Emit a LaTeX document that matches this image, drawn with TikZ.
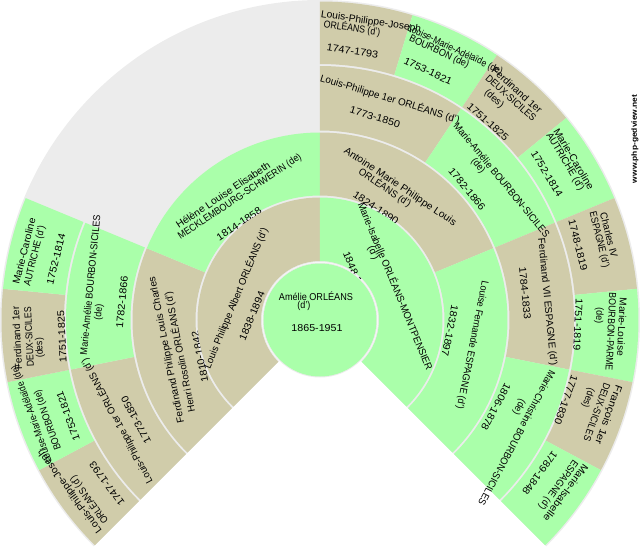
\documentclass[tikz,border=0pt]{standalone}
\usepackage{graphicx}
\usepackage{fontspec}
\setmainfont{Liberation Sans}
\definecolor{tan}{HTML}{D0CCAA}
\definecolor{grn}{HTML}{AAFFAA}
\definecolor{rim}{HTML}{ECECEC}
\newcommand{\wedgeseg}[5]{% colour, rin, rout, a1, a2
  \fill[#1] (#4:#2) arc[start angle=#4,end angle=#5,radius=#2] -- (#5:#3) arc[start angle=#5,end angle=#4,radius=#3] -- cycle;}
\newlength\lblw
\newcommand{\lfont}{\fontsize{10}{12}\selectfont}
% \lbl{name}{x px}{y px}{rot}{width px}{text}
\newcommand{\lbl}[6]{%
  \node[lab,rotate=#4] (#1) at ({#2-320},{320-#3}) {\settowidth\lblw{#6}\pgfmathsetmacro\lblsx{#5/\lblw}\scalebox{\lblsx}[1]{#6}};}
\tikzset{lab/.style={inner sep=0pt,font=\lfont,text=black,anchor=center}}
\begin{document}
\begin{tikzpicture}[x=1pt,y=1pt]
\useasboundingbox (-320,-230) rectangle (320,320);
% background fan
\fill[rim] (225:58) arc[start angle=225,end angle=-45,radius=58] -- (-45:320) arc[start angle=-45,end angle=225,radius=320] -- cycle;
% ring 4
\wedgeseg{tan}{256}{318.5}{225}{208.125}
\wedgeseg{grn}{256}{318.5}{208.125}{191.25}
\wedgeseg{tan}{256}{318.5}{191.25}{174.375}
\wedgeseg{grn}{256}{318.5}{174.375}{157.5}
\wedgeseg{tan}{256}{318.5}{90}{73.125}
\wedgeseg{grn}{256}{318.5}{73.125}{56.25}
\wedgeseg{tan}{256}{318.5}{56.25}{39.375}
\wedgeseg{grn}{256}{318.5}{39.375}{22.5}
\wedgeseg{tan}{256}{318.5}{22.5}{5.625}
\wedgeseg{grn}{256}{318.5}{5.625}{-11.25}
\wedgeseg{tan}{256}{318.5}{-11.25}{-28.125}
\wedgeseg{grn}{256}{318.5}{-28.125}{-45}
\lbl{a1}{371}{22}{-8.44}{101}{Louis-Philippe-Joseph}
\lbl{a2}{352}{28}{-8.44}{57}{ORLÉANS (d')}
\lbl{a3}{352.5}{51}{-8.44}{52}{1747-1793}
\lbl{b1}{455}{50}{-25.3}{104}{Louise-Marie-Adélaïde (de)}
\lbl{b2}{439}{52}{-25.3}{65}{BOURBON (de)}
\lbl{b3}{428}{71}{-25.3}{52}{1753-1821}
\lbl{c1}{517}{90}{-42.2}{64}{Ferdinand 1er}
\lbl{c2}{511}{98}{-42.2}{64}{DEUX-SICILES}
\lbl{c3}{494}{99}{-42.2}{22}{(des)}
\lbl{c4}{488}{122}{-42.2}{52}{1751-1825}
\lbl{d1}{574}{159}{-59.06}{69}{Marie-Caroline}
\lbl{d2}{565}{162}{-59.06}{65}{AUTRICHE (d')}
\lbl{d3}{547}{174}{-59.06}{52}{1752-1814}
\lbl{e1}{609}{235}{-75.94}{46}{Charles IV}
\lbl{e2}{599}{240}{-75.94}{57}{ESPAGNE (d')}
\lbl{e3}{578}{245}{-75.94}{52}{1748-1819}
\lbl{f1}{622}{327}{-92.8}{58}{Marie-Louise}
\lbl{f2}{611}{332}{-92.8}{78}{BOURBON-PARME}
\lbl{f3}{599}{316}{-92.8}{16}{(de)}
\lbl{f4}{578}{325}{-92.8}{52}{1751-1819}
\lbl{g1}{608}{415}{-109.7}{62}{François 1er}
\lbl{g2}{597}{412}{-109.7}{61}{DEUX-SICILES}
\lbl{g3}{588}{398}{-109.7}{20}{(des)}
\lbl{g4}{566}{400}{-109.7}{52}{1777-1830}
\lbl{h1}{566}{493}{-126.56}{68}{Marie-Isabelle}
\lbl{h2}{558}{485}{-126.56}{59}{ESPAGNE (d')}
\lbl{h3}{540}{473}{-126.56}{52}{1789-1848}
\lbl{i1}{70}{491}{126.56}{101}{Louis-Philippe-Joseph}
\lbl{i2}{89}{500}{126.56}{57}{ORLÉANS (d')}
\lbl{i3}{107}{484}{126.56}{52}{1747-1793}
\lbl{j1}{32}{414}{109.7}{103}{Louise-Marie-Adélaïde (de)}
\lbl{j2}{48}{420}{109.7}{63}{BOURBON (de)}
\lbl{j3}{68}{416}{109.7}{52}{1753-1821}
\lbl{k1}{17}{338}{92.8}{63}{Ferdinand 1er}
\lbl{k2}{29}{337}{92.8}{60}{DEUX-SICILES}
\lbl{k3}{40}{348}{92.8}{20}{(des)}
\lbl{k4}{62}{337}{92.8}{52}{1751-1825}
\lbl{l1}{24}{251}{75.94}{68}{Marie-Caroline}
\lbl{l2}{35}{256}{75.94}{61}{AUTRICHE (d')}
\lbl{l3}{56}{259}{75.94}{52}{1752-1814}
% ring 3
\wedgeseg{tan}{189.5}{254}{225}{191.25}
\wedgeseg{grn}{189.5}{254}{191.25}{157.5}
\wedgeseg{tan}{189.5}{254}{90}{56.25}
\wedgeseg{grn}{189.5}{254}{56.25}{22.5}
\wedgeseg{tan}{189.5}{254}{22.5}{-11.25}
\wedgeseg{grn}{189.5}{254}{-11.25}{-45}
\lbl{m1}{390}{99}{-16.9}{145}{Louis-Philippe 1er ORLÉANS (d')}
\lbl{m2}{375}{117}{-16.9}{52}{1773-1850}
\lbl{n1}{502}{180}{-50.6}{145}{Marie-Amélie BOURBON-SICILES}
\lbl{n2}{478}{166}{-50.6}{16}{(de)}
\lbl{n3}{467}{189}{-50.6}{52}{1782-1866}
\lbl{o1}{547}{302}{-84.4}{128}{Ferdinand VII ESPAGNE (d')}
\lbl{o2}{525}{293}{-84.4}{52}{1784-1833}
\lbl{p1}{517}{438}{-118.1}{152}{Marie-Christine BOURBON-SICILES}
\lbl{p2}{519}{407}{-118.1}{16}{(de)}
\lbl{p3}{496}{407}{-118.1}{52}{1806-1878}
\lbl{q1}{117}{421}{118.1}{140}{Louis-Philippe 1er ORLÉANS (d')}
\lbl{q2}{136}{420}{118.1}{52}{1773-1850}
\lbl{r1}{90}{285}{84.4}{140}{Marie-Amélie BOURBON-SICILES}
\lbl{r2}{99}{312}{84.4}{16}{(de)}
\lbl{r3}{122}{302}{84.4}{52}{1782-1866}
% ring 2
\wedgeseg{tan}{124.5}{187.5}{225}{157.5}
\wedgeseg{grn}{124.5}{187.5}{157.5}{90}
\wedgeseg{tan}{124.5}{187.5}{90}{22.5}
\wedgeseg{grn}{124.5}{187.5}{22.5}{-45}
\lbl{s1}{400}{187}{-33.75}{133}{Antoine Marie Philippe Louis}
\lbl{s2}{385}{188}{-33.75}{61}{ORLÉANS (d')}
\lbl{s3}{376}{208}{-33.75}{52}{1824-1890}
\lbl{t1}{472}{345}{-101.25}{131}{Louise Fernande ESPAGNE (d')}
\lbl{t2}{450}{331}{-101.25}{52}{1832-1897}
\lbl{u1}{223}{195}{33.75}{111}{Hélène Louise Elisabeth}
\lbl{u2}{240}{197}{33.75}{146}{MECKLEMBOURG-SCHWERIN (de)}
\lbl{u3}{239}{224}{33.75}{52}{1814-1858}
\lbl{v1}{167}{350}{101.25}{149}{Ferdinand Philippe Louis Charles}
\lbl{v2}{180}{352}{101.25}{122}{Henri Rosolin ORLÉANS (d')}
\lbl{v3}{200}{357}{101.25}{52}{1810-1842}
% ring 1
\wedgeseg{tan}{59}{122.5}{225}{90}
\wedgeseg{grn}{59}{122.5}{90}{-45}
\lbl{w1}{396}{286}{-67.5}{180}{Marie-Isabelle ORLÉANS-MONTPENSIER}
\lbl{w2}{373}{253}{-67.5}{14}{(d')}
\lbl{w3}{356}{276}{-67.5}{52}{1848-1919}
\lbl{x1}{236}{298}{67.5}{151}{Louis Philippe Albert ORLÉANS (d')}
\lbl{x2}{252}{316}{67.5}{52}{1838-1894}
% centre
\fill[rim] (0,0) circle[radius=57.5];
\fill[grn] (0,0) circle[radius=56.5];
\lbl{y1}{316}{296}{0}{74}{Amélie ORLÉANS}
\lbl{y2}{304}{306}{0}{13}{(d')}
\lbl{y3}{317}{328}{0}{51}{1865-1951}
\lbl{z}{635}{139}{90}{88}{\fontsize{7.5}{9}\selectfont\bfseries www.php-gedview.net}
\end{tikzpicture}
\end{document}
